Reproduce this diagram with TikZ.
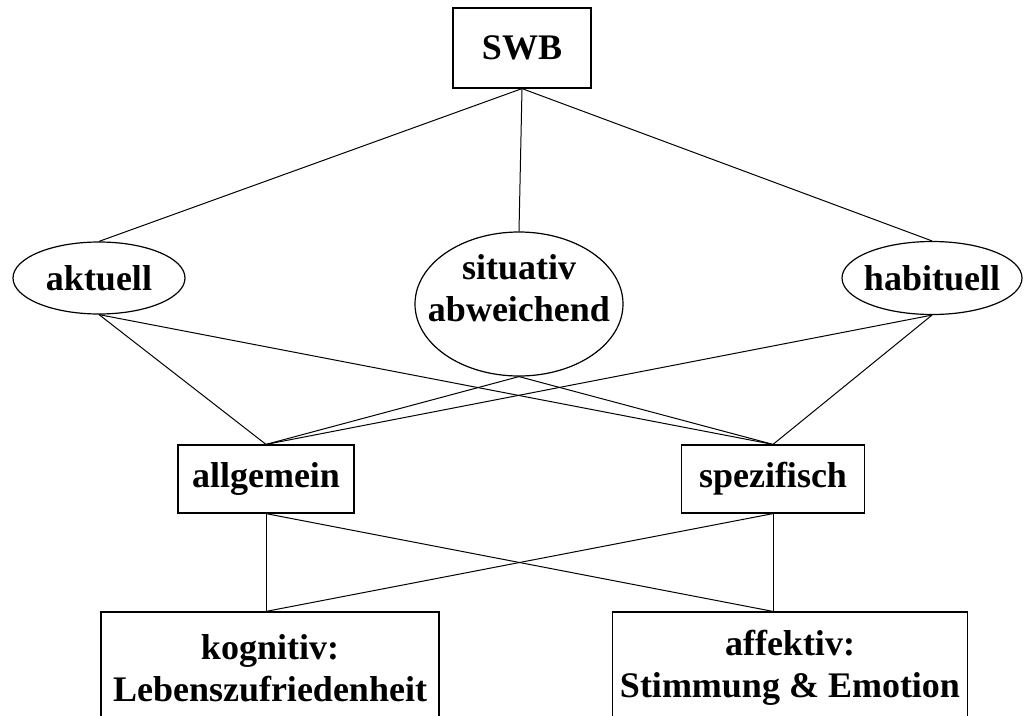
\documentclass[tikz,border=0pt]{standalone}
\usepackage{fontspec}
\setmainfont{Liberation Serif}
\usetikzlibrary{shapes.geometric}

\tikzset{
  swbbox/.style={draw, line width=1.2pt, inner sep=0pt, align=center},
  swbell/.style={draw, ellipse, line width=1.2pt, inner xsep=-30pt, inner ysep=-10pt, align=center},
  link/.style={line width=1pt}
}

\begin{document}
\begin{tikzpicture}[x=1pt, y=-1pt, font=\fontsize{36}{42}\selectfont\bfseries]
  \clip (0,0) rectangle (1025,715);
  \node[swbbox, minimum width=138, minimum height=80] (swb) at (522,48) {SWB};
  \node[swbell, minimum width=172, minimum height=72] (akt) at (99,278) {aktuell};
  \node[swbell, minimum width=208, minimum height=144] (sit) at (519,304)
    {situativ\\abweichend\rule[-32pt]{0pt}{0pt}};
  \node[swbell, minimum width=180, minimum height=73] (hab) at (932,278) {habituell};
  \node[swbbox, minimum width=176, minimum height=68] (allg) at (266,479) {allgemein};
  \node[swbbox, minimum width=183, minimum height=68] (spez) at (773,479) {spezifisch};
  \node[swbbox, minimum width=338, minimum height=112] (kog) at (270,668) {kognitiv:\\Lebenszufriedenheit};
  \node[swbbox, minimum width=355, minimum height=112] (aff) at (790,668) {affektiv:\\Stimmung \& Emotion};
  \draw[link] (swb.south) -- (akt.north);
  \draw[link] (swb.south) -- (sit.north);
  \draw[link] (swb.south) -- (hab.north);
  \draw[link] (akt.south) -- (allg.north);
  \draw[link] (akt.south) -- (spez.north);
  \draw[link] (sit.south) -- (allg.north);
  \draw[link] (sit.south) -- (spez.north);
  \draw[link] (hab.south) -- (allg.north);
  \draw[link] (hab.south) -- (spez.north);
  \draw[link] (allg.south) -- (allg.south |- kog.north);
  \draw[link] (allg.south) -- (spez.south |- aff.north);
  \draw[link] (spez.south) -- (allg.south |- kog.north);
  \draw[link] (spez.south) -- (spez.south |- aff.north);
\end{tikzpicture}
\end{document}
